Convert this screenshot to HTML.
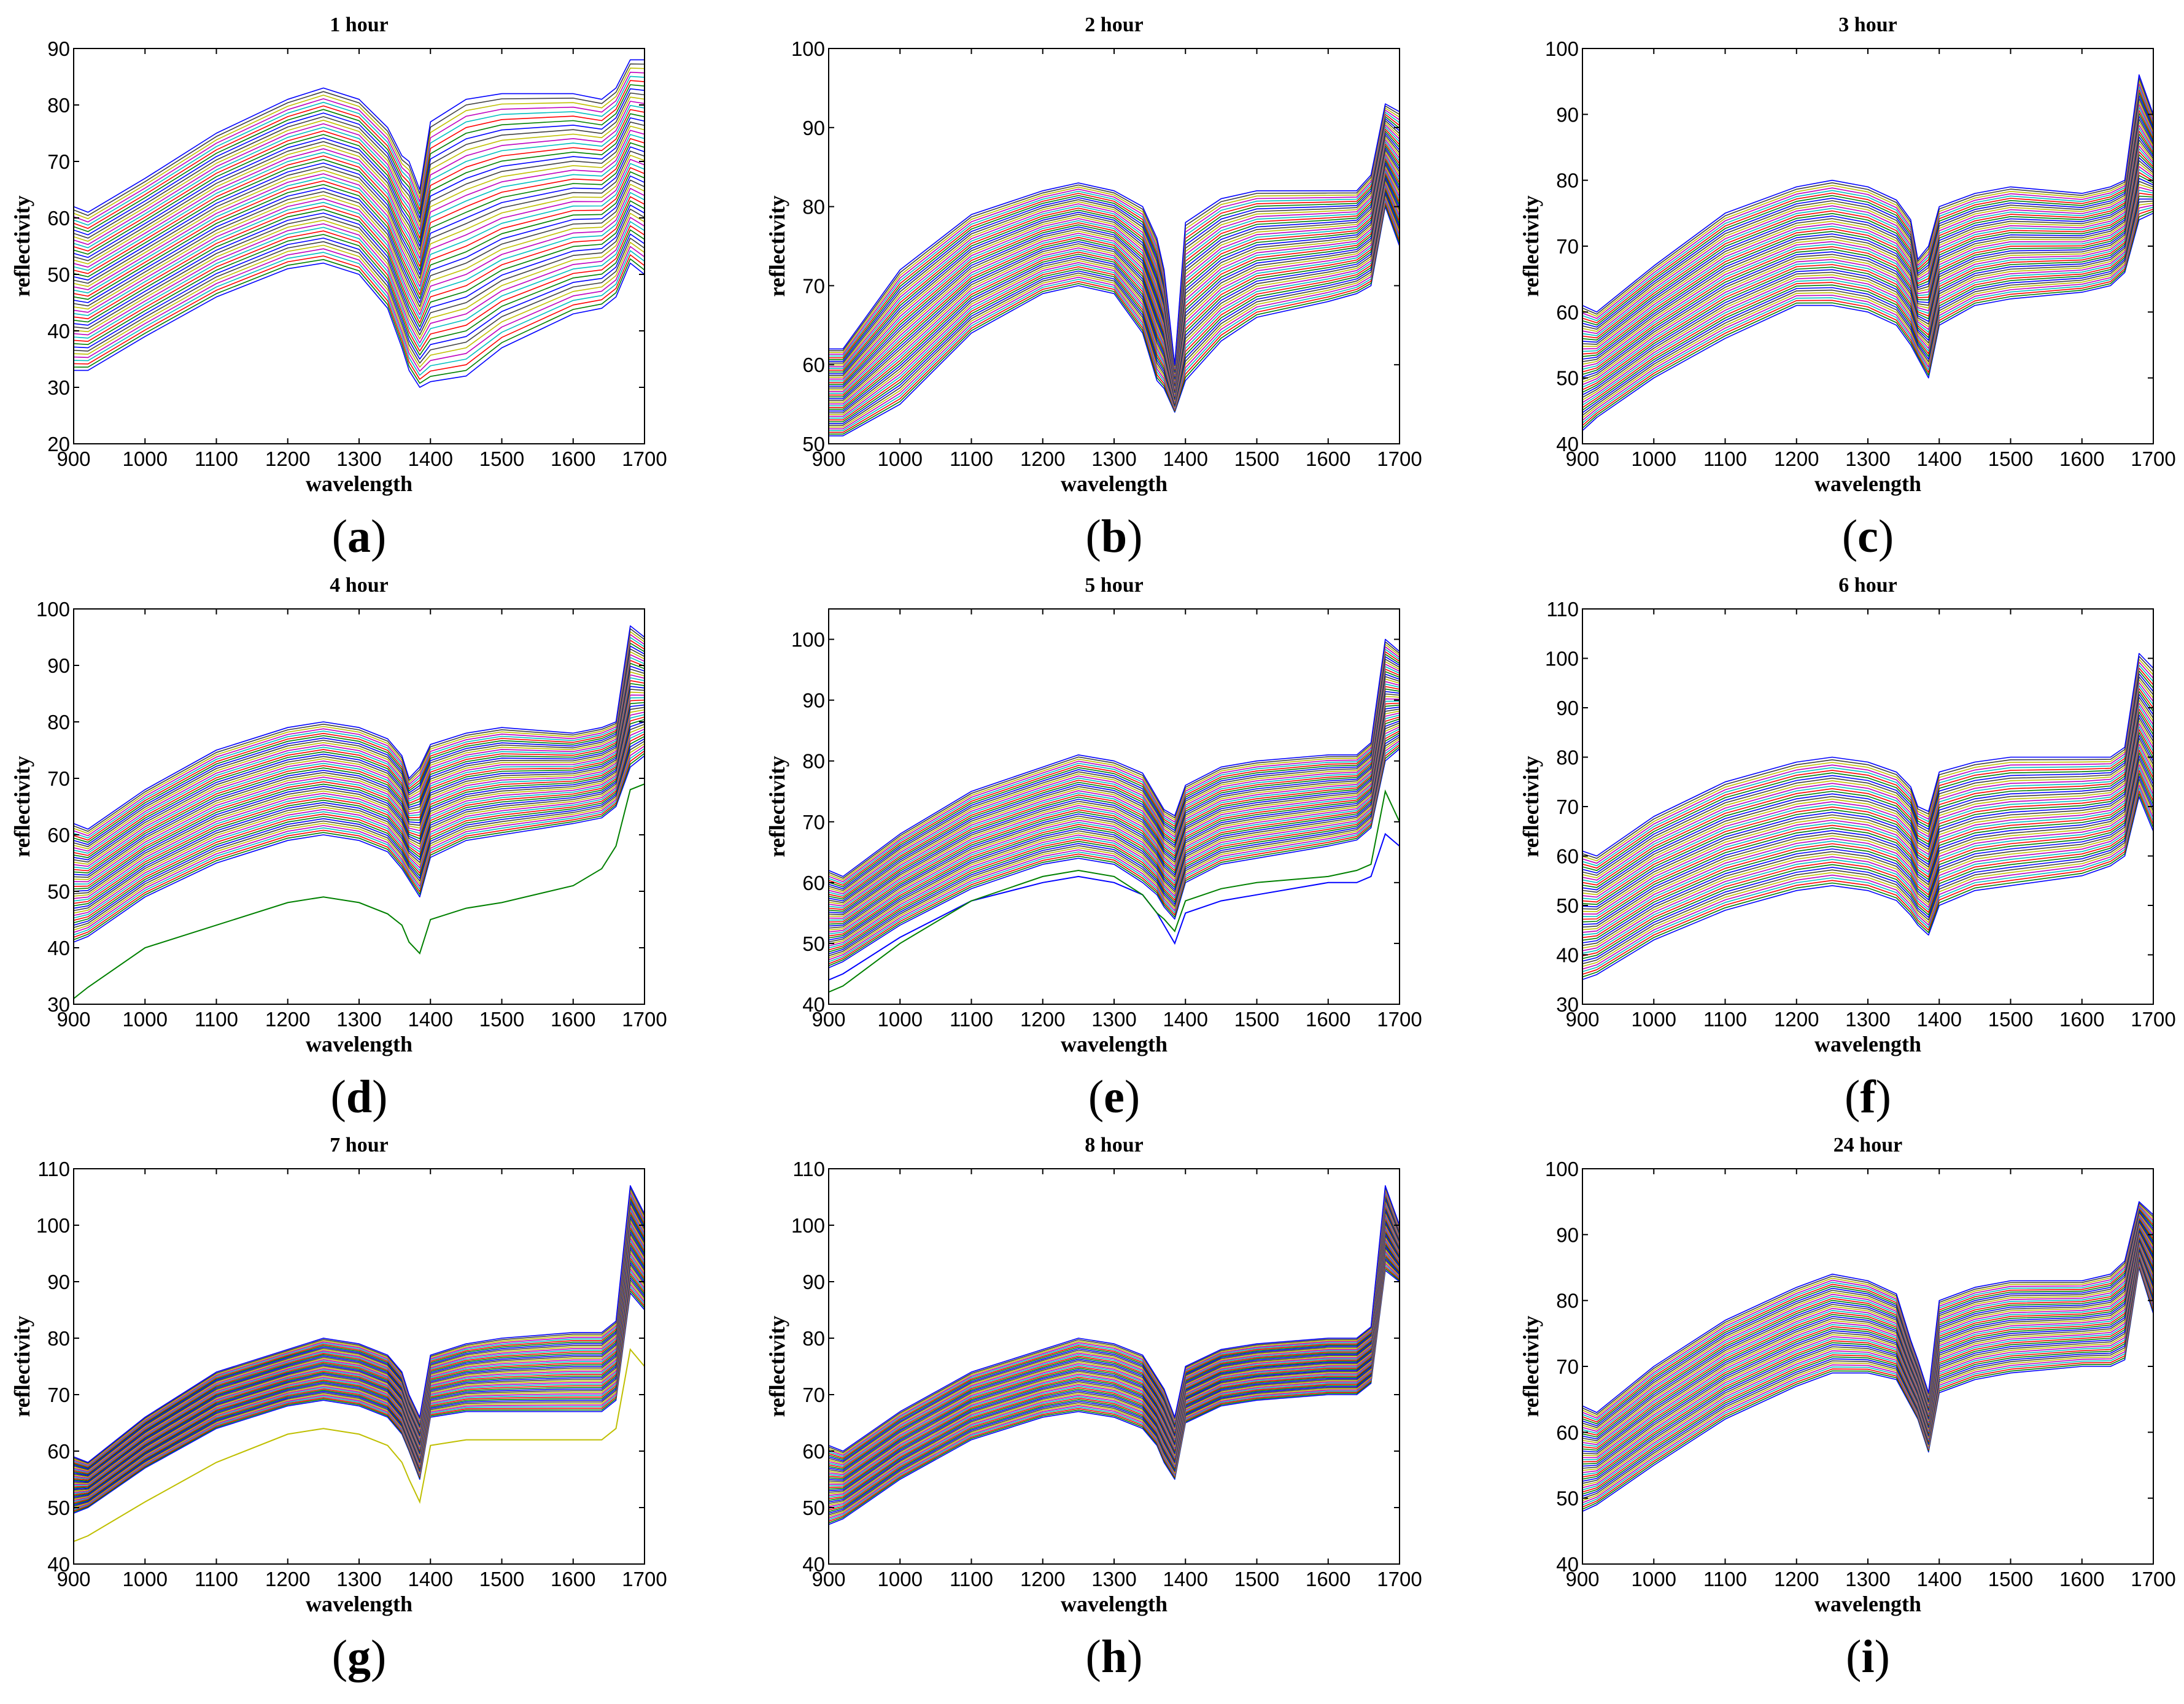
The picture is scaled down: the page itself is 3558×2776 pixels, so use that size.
<!DOCTYPE html>
<html><head><meta charset="utf-8"><style>
html,body{margin:0;padding:0;background:#fff}
svg{display:block}
</style></head><body>
<svg id="fig" xmlns="http://www.w3.org/2000/svg" width="3558" height="2776" viewBox="0 0 3558 2776"></svg>
<script>
const wl=[900,920,1000,1100,1200,1250,1300,1340,1360,1370,1385,1400,1450,1500,1600,1640,1660,1680,1700];
const titles=["1 hour","2 hour","3 hour","4 hour","5 hour","6 hour","7 hour","8 hour","24 hour"];
const letters=["a","b","c","d","e","f","g","h","i"];
const yMin=[20,50,40,30,40,30,40,40,40];
const yMax=[90,100,100,100,105,110,110,110,100];
const yTickTop=[90,100,100,100,100,110,110,110,100];
const upperA=[62,61,67,75,81,83,81,76,71,70,65,77,81,82,82,81,83,88,88];
const lowerA=[33,33,39,46,51,52,50,44,37,33,30,31,32,37,43,44,46,52,50];
const upperB=[62,62,72,79,82,83,82,80,76,72,60,78,81,82,82,82,84,93,92];
const lowerB=[51,51,55,64,69,70,69,64,58,57,54,58,63,66,68,69,70,80,75];
const upperC=[61,60,67,75,79,80,79,77,74,68,70,76,78,79,78,79,80,96,90];
const lowerC=[42,44,50,56,61,61,60,58,55,53,50,58,61,62,63,64,66,74,75];
const upperD=[62,61,68,75,79,80,79,77,74,70,72,76,78,79,78,79,80,97,95];
const lowerD=[41,42,49,55,59,60,59,57,54,52,49,56,59,60,62,63,65,72,74];
const extraD1=[31,33,40,44,48,49,48,46,44,41,39,45,47,48,51,54,58,68,69];
const upperE=[62,61,68,75,79,81,80,78,74,72,71,76,79,80,81,81,83,100,98];
const lowerE=[46,47,53,59,63,64,63,60,58,56,54,60,63,64,66,67,69,80,82];
const extraE1=[44,45,51,57,60,61,60,58,55,53,50,55,57,58,60,60,61,68,66];
const extraE2=[42,43,50,57,61,62,61,58,55,54,52,57,59,60,61,62,63,75,70];
const upperF=[61,60,68,75,79,80,79,77,74,70,69,77,79,80,80,80,82,101,98];
const lowerF=[35,36,43,49,53,54,53,51,48,46,44,50,53,54,56,58,60,72,65];
const upperG=[59,58,66,74,78,80,79,77,74,70,66,77,79,80,81,81,83,107,102];
const lowerG=[49,50,57,64,68,69,68,66,63,60,55,66,67,67,67,67,69,88,85];
const extraG1=[44,45,51,58,63,64,63,61,58,55,51,61,62,62,62,62,64,78,75];
const upperH=[61,60,67,74,78,80,79,77,73,71,66,75,78,79,80,80,82,107,100];
const lowerH=[47,48,55,62,66,67,66,64,61,58,55,65,68,69,70,70,72,92,90];
const upperI=[64,63,70,77,82,84,83,81,74,71,66,80,82,83,83,84,86,95,93];
const lowerI=[48,49,55,62,67,69,69,68,64,62,57,66,68,69,70,70,71,85,78];
const uppers=[upperA,upperB,upperC,upperD,upperE,upperF,upperG,upperH,upperI];
const lowers=[lowerA,lowerB,lowerC,lowerD,lowerE,lowerF,lowerG,lowerH,lowerI];
const extras=[[],[],[],[[extraD1,"#008000"]],[[extraE1,"#0000ff"],[extraE2,"#008000"]],[],[[extraG1,"#bfbf00"]],[],[]];
const xTicks=[900,1000,1100,1200,1300,1400,1500,1600,1700];
const colors=["#0000ff","#008000","#ff0000","#00bfbf","#bf00bf","#bfbf00","#404040"];
const NC=50;

const svg=document.getElementById('fig');
const NS="http://www.w3.org/2000/svg";
function mk(t,a,p){const e=document.createElementNS(NS,t);for(const k in a)e.setAttribute(k,a[k]);(p||svg).appendChild(e);return e;}
const colL=[120,1350,2578], rowT=[79,992,1904], W=930, H=644;
for(let p=0;p<9;p++){
  const L=colL[p%3], T=rowT[Math.floor(p/3)];
  const g=mk('g',{});
  
  
  const xs=v=>L+(v-900)/800*W;
  const ys=v=>T+H-(v-yMin[p])/(yMax[p]-yMin[p])*H;
  const clip=mk('clipPath',{id:'c'+p},g);
  mk('rect',{x:L,y:T,width:W,height:H},clip);
  const cg=mk('g',{'clip-path':'url(#c'+p+')'},g);
  const up=uppers[p], lo=lowers[p];
  for(let i=0;i<NC;i++){
    const t=i/(NC-1);
    let d='';
    for(let j=0;j<wl.length;j++){
      const v=lo[j]+t*(up[j]-lo[j]);
      d+=(j?'L':'M')+xs(wl[j]).toFixed(1)+','+ys(v).toFixed(1);
    }
    const path=mk('path',{d:d,fill:'none',stroke:colors[i%7],'stroke-width':1.6,'stroke-linejoin':'round'},cg);
    
    
  }
  extras[p].forEach(ex=>{
    let d='';
    for(let j=0;j<wl.length;j++)d+=(j?'L':'M')+xs(wl[j]).toFixed(1)+','+ys(ex[0][j]).toFixed(1);
    const path=mk('path',{d:d,fill:'none',stroke:ex[1],'stroke-width':2},cg);
    
    
  });
  const fr=mk('rect',{x:L,y:T,width:W,height:H,fill:'none',stroke:'#000','stroke-width':2},g);
  
  
  xTicks.forEach(v=>{
    const x=xs(v);
    mk('line',{x1:x,y1:T+H,x2:x,y2:T+H-9,stroke:'#000','stroke-width':2},g);
    mk('line',{x1:x,y1:T,x2:x,y2:T+9,stroke:'#000','stroke-width':2},g);
    const tx=mk('text',{x:x,y:T+H+36,'font-family':'Liberation Sans, sans-serif','font-size':33,'text-anchor':'middle'},g);
    tx.textContent=v;
    
    
  });
  for(let v=yMin[p];v<=yTickTop[p];v+=10){
    const y=ys(v);
    mk('line',{x1:L,y1:y,x2:L+9,y2:y,stroke:'#000','stroke-width':2},g);
    mk('line',{x1:L+W,y1:y,x2:L+W-9,y2:y,stroke:'#000','stroke-width':2},g);
    const ty=mk('text',{x:L-6,y:y+12,'font-family':'Liberation Sans, sans-serif','font-size':33,'text-anchor':'end'},g);
    ty.textContent=v;
    
    
  }
  const ti=mk('text',{x:L+W/2,y:T-28,'font-family':'Liberation Serif, serif','font-size':34,'font-weight':'bold','text-anchor':'middle'},g);
  ti.textContent=titles[p];
  
  
  const xl=mk('text',{x:L+W/2,y:T+H+77,'font-family':'Liberation Serif, serif','font-size':36,'font-weight':'bold','text-anchor':'middle'},g);
  xl.textContent='wavelength';
  
  
  const yl=mk('text',{x:0,y:0,'font-family':'Liberation Serif, serif','font-size':36,'font-weight':'bold','text-anchor':'middle',transform:'translate('+(L-72)+','+(T+H/2)+') rotate(-90)'},g);
  yl.textContent='reflectivity';
  
  
  const lt=mk('text',{x:L+W/2,y:T+H+176,'font-family':'Liberation Serif, serif','font-size':76,'text-anchor':'middle'},g);
  lt.innerHTML='(<tspan font-weight="bold">'+letters[p]+'</tspan>)';
  
  
}
</script>
</body></html>
